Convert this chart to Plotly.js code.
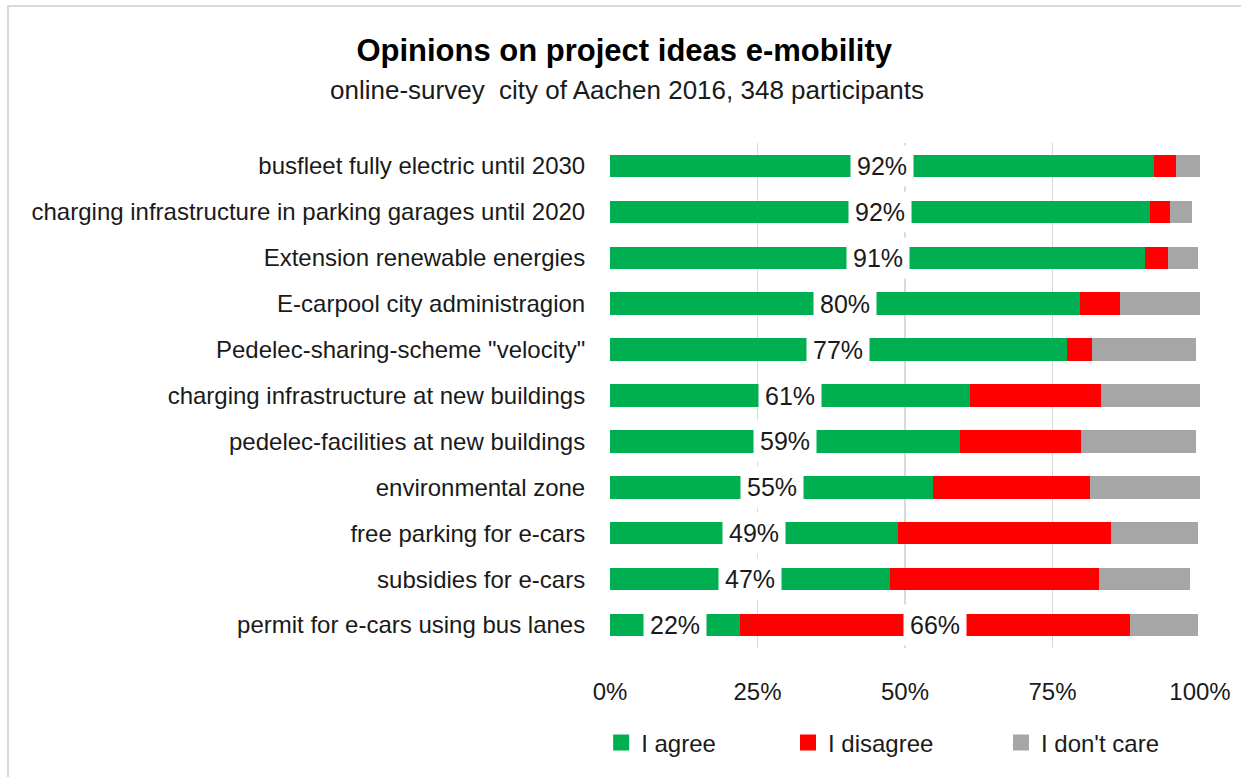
<!DOCTYPE html>
<html>
<head>
<meta charset="utf-8">
<script src="https://cdn.plot.ly/plotly-3.0.1.min.js"></script>
<style>
html,body{margin:0;padding:0;background:#fff;}
#frame{position:absolute;left:7px;top:5px;width:1240px;height:780px;border-left:2px solid #d9d9d9;border-top:2px solid #d9d9d9;box-sizing:border-box;}
#chart{position:absolute;left:0;top:0;width:1241px;height:777px;}
</style>
</head>
<body>
<div id="chart"></div>
<div id="frame"></div>
<script>
const categories = [
  "busfleet fully electric until 2030",
  "charging infrastructure in parking garages until 2020",
  "Extension renewable energies",
  "E-carpool city administragion",
  "Pedelec-sharing-scheme \"velocity\"",
  "charging infrastructure at new buildings",
  "pedelec-facilities at new buildings",
  "environmental zone",
  "free parking for e-cars",
  "subsidies for e-cars",
  "permit for e-cars using bus lanes"
];
const agree     = [92.2, 91.5, 90.7, 79.7, 77.4, 61.0, 59.3, 54.8, 48.8, 47.5, 22.0];
const disagree  = [3.8, 3.4, 3.9, 6.7, 4.3, 22.3, 20.6, 26.6, 36.1, 35.4, 66.1];
const dontCare  = [4.0, 3.8, 5.1, 13.6, 17.7, 16.7, 19.5, 18.6, 14.7, 15.4, 11.6];
const agreeLabels = ["92%", "92%", "91%", "80%", "77%", "61%", "59%", "55%", "49%", "47%", "22%"];
const disagreeLabels = ["", "", "", "", "", "", "", "", "", "", "66%"];
const xTickVals = [0, 25, 50, 75, 100];
const xTickText = ["0%", "25%", "50%", "75%", "100%"];
const seriesNames = ["I agree", "I disagree", "I don't care"];
const colors = ["#00B050", "#FF0000", "#A6A6A6"];

const FONT = "Liberation Sans, Arial, sans-serif";

const traces = [agree, disagree, dontCare].map((vals, i) => ({
  type: "bar",
  orientation: "h",
  name: seriesNames[i],
  x: vals,
  y: categories,
  marker: {color: colors[i]},
  showlegend: false,
  hoverinfo: "x+y+name"
}));
// legend-only entries (larger square swatches)
seriesNames.forEach((n, i) => {
  traces.push({
    type: "scatter", mode: "markers", name: n,
    x: [null], y: [null],
    marker: {symbol: "square", size: 16, color: colors[i]},
    legend: i === 0 ? "legend" : ("legend" + (i + 1)),
    showlegend: true, hoverinfo: "skip"
  });
});

const annotations = [];
categories.forEach((c, i) => {
  if (agreeLabels[i]) {
    annotations.push({
      x: agree[i] / 2, y: c, xref: "x", yref: "y",
      text: agreeLabels[i], showarrow: false,
      bgcolor: "#ffffff", borderpad: 6,
      font: {family: FONT, size: 25, color: "#1a1a1a"}
    });
  }
  if (disagreeLabels[i]) {
    annotations.push({
      x: agree[i] + disagree[i] / 2, y: c, xref: "x", yref: "y",
      text: disagreeLabels[i], showarrow: false,
      bgcolor: "#ffffff", borderpad: 6,
      font: {family: FONT, size: 25, color: "#1a1a1a"}
    });
  }
});
annotations.push({
  xref: "paper", yref: "paper", x: 0.029, y: 1.104,
  text: "online-survey&nbsp;&nbsp;city of Aachen 2016, 348 participants",
  showarrow: false, yanchor: "middle", xanchor: "center",
  font: {family: FONT, size: 26, color: "#1a1a1a"}
});

const legendBase = {
  orientation: "h", yanchor: "middle", xanchor: "left", y: -0.188,
  font: {family: FONT, size: 24, color: "#1a1a1a"},
  bgcolor: "rgba(0,0,0,0)", itemwidth: 30
};

const layout = {
  width: 1241, height: 777,
  paper_bgcolor: "#ffffff", plot_bgcolor: "#ffffff",
  margin: {l: 610, r: 41, t: 143, b: 123},
  barmode: "stack",
  bargap: 0.51,
  title: {
    text: "<b>Opinions on project ideas e-mobility</b>",
    x: 0.503, xref: "container", xanchor: "center",
    y: 0.9356, yref: "container", yanchor: "middle",
    font: {family: FONT, size: 31, color: "#000000"}
  },
  xaxis: {
    range: [0, 100], tickvals: xTickVals, ticktext: xTickText,
    showgrid: true, gridcolor: "#d9d9d9", gridwidth: 1.3,
    zeroline: false, showline: false,
    ticks: "outside", ticklen: 22, tickcolor: "rgba(0,0,0,0)",
    tickfont: {family: FONT, size: 24, color: "#1a1a1a"},
    fixedrange: true
  },
  yaxis: {
    autorange: "reversed", type: "category",
    categoryorder: "array", categoryarray: categories,
    showgrid: false, zeroline: false, showline: false,
    ticks: "outside", ticklen: 19, tickcolor: "rgba(0,0,0,0)",
    tickfont: {family: FONT, size: 24, color: "#1a1a1a"},
    fixedrange: true
  },
  annotations: annotations,
  legend: Object.assign({}, legendBase, {x: -0.015}),
  legend2: Object.assign({}, legendBase, {x: 0.3017}),
  legend3: Object.assign({}, legendBase, {x: 0.6627}),
  showlegend: true
};

Plotly.newPlot("chart", traces, layout, {displayModeBar: false, staticPlot: true});
</script>
</body>
</html>
